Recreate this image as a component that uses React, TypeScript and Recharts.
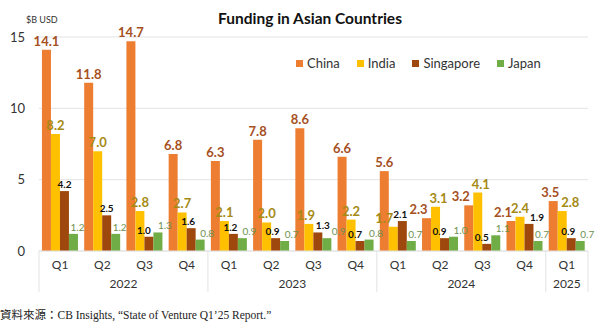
import React from 'react';
import { BarChart, Bar, XAxis, YAxis, CartesianGrid, LabelList } from 'recharts';

const quarters = ['Q1', 'Q2', 'Q3', 'Q4', 'Q1', 'Q2', 'Q3', 'Q4', 'Q1', 'Q2', 'Q3', 'Q4', 'Q1'];
const years = ['2022', '2022', '2022', '2022', '2023', '2023', '2023', '2023', '2024', '2024', '2024', '2024', '2025'];
const china = [14.1, 11.8, 14.7, 6.8, 6.3, 7.8, 8.6, 6.6, 5.6, 2.3, 3.2, 2.1, 3.5];
const india = [8.2, 7.0, 2.8, 2.7, 2.1, 2.0, 1.9, 2.2, 1.7, 3.1, 4.1, 2.4, 2.8];
const singapore = [4.2, 2.5, 1.0, 1.6, 1.2, 0.9, 1.3, 0.7, 2.1, 0.9, 0.5, 1.9, 0.9];
const japan = [1.2, 1.2, 1.3, 0.8, 0.9, 0.7, 0.9, 0.8, 0.7, 1.0, 1.1, 0.7, 0.7];
const yTicks = [0, 5, 10, 15];

// left / right: how far a label steps aside; push: step taken beside a lower neighbour; close: value gap under which labels collide
const series = [
  { key: 'china', name: 'China', color: '#ED7D31', label: '#A5501E', size: 13, weight: 'bold', dx: 0, left: 8, right: 8, push: 3, close: 0.95, gap: 4 },
  { key: 'india', name: 'India', color: '#FFC000', label: '#A58A14', size: 13, weight: 'bold', dx: 0, left: 9, right: 8, push: 3, close: 0.95, gap: 4 },
  { key: 'singapore', name: 'Singapore', color: '#9E480E', label: '#111111', size: 10, weight: 'bold', dx: 0, left: 5, right: 8, push: -2, close: 0.65, gap: 3 },
  { key: 'japan', name: 'Japan', color: '#70AD47', label: '#6E9250', size: 10, weight: 'normal', dx: 4, left: 0, right: 3, push: 3, close: 0.8, gap: 3 },
];

const data: any[] = quarters.map((q, i) => ({
  q,
  year: years[i],
  china: china[i],
  india: india[i],
  singapore: singapore[i],
  japan: japan[i],
}));

const W = 600;
const H = 300;
const LEFT = 39;
const RIGHT = 12;
const BW = (W - LEFT - RIGHT) / data.length;

function rowOffsets(row: any) {
  const out: number[] = [];
  series.forEach((s, si) => {
    const v = row[s.key];
    let dx = s.dx;
    const ps = series[si - 1];
    const ns = series[si + 1];
    const prev = ps ? row[ps.key] : null;
    const next = ns ? row[ns.key] : null;
    if (next != null) {
      if (next >= v && next - v <= s.close) dx -= s.left;
      else if (next < v && v - next <= ns.close) dx -= 3;
    }
    if (prev != null) {
      if (prev >= v && prev - v <= s.close) dx += s.right + Math.max(0, out[si - 1]);
      else if (prev < v && v - prev <= ps.close) dx += s.push;
    }
    out.push(dx);
  });
  return out;
}

function makeLabel(si: number) {
  const s = series[si];
  return (p: any) => {
    const { x, y, width, value, index } = p;
    const dx = rowOffsets(data[index])[si];
    return (
      <text
        x={x + width / 2 + dx}
        y={y - s.gap}
        textAnchor="middle"
        fill={s.label}
        fontSize={s.size}
        fontWeight={s.weight}
      >
        {Number(value).toFixed(1)}
      </text>
    );
  };
}

function QuarterTick(props: any) {
  const { x, y, payload } = props;
  const i = payload.index;
  const yr = data[i].year;
  const first = i === 0 || data[i - 1].year !== yr;
  const last = i === data.length - 1;
  const n = data.filter((d) => d.year === yr).length;
  return (
    <g>
      <text x={x} y={y + 18} textAnchor="middle" fontSize={12} fill="#333">
        {payload.value}
      </text>
      {first && (
        <>
          <line x1={x - BW / 2} x2={x - BW / 2} y1={y} y2={y + 41} stroke="#e3e3e3" />
          <text x={x + ((n - 1) / 2) * BW} y={y + 37} textAnchor="middle" fontSize={12} fill="#333">
            {yr}
          </text>
        </>
      )}
      {last && <line x1={x + BW / 2} x2={x + BW / 2} y1={y} y2={y + 41} stroke="#e3e3e3" />}
    </g>
  );
}

export default function App() {
  return (
    <div
      style={{
        position: 'fixed',
        top: 0,
        left: 0,
        width: 600,
        height: 327,
        background: '#fff',
        fontFamily: 'Lato, sans-serif',
      }}
    >
      <div
        style={{
          position: 'absolute',
          top: 9,
          left: 0,
          width: 620,
          textAlign: 'center',
          fontSize: 15.5,
          fontWeight: 'bold',
          color: '#111',
        }}
      >
        Funding in Asian Countries
      </div>
      <div style={{ position: 'absolute', top: 14, left: 26, fontSize: 9, color: '#333' }}>$B USD</div>
      <div
        style={{
          position: 'absolute',
          top: 55,
          left: 296,
          display: 'flex',
          gap: 17,
          fontSize: 13,
          color: '#333',
          zIndex: 2,
        }}
      >
        {series.map((s) => (
          <div key={s.key} style={{ display: 'flex', alignItems: 'center', gap: 4 }}>
            <span style={{ width: 7, height: 7, background: s.color, display: 'inline-block' }} />
            {s.name}
          </div>
        ))}
      </div>
      <BarChart
        width={W}
        height={H}
        data={data}
        margin={{ top: 37, right: RIGHT, left: 0, bottom: 0 }}
        barCategoryGap="7%"
        barGap={0}
        style={{ fontFamily: 'Lato, sans-serif' }}
      >
        <CartesianGrid vertical={false} stroke="#e3e3e3" />
        <YAxis
          width={LEFT}
          domain={[0, 15]}
          ticks={yTicks}
          axisLine={false}
          tickLine={false}
          tickSize={0}
          tickMargin={14}
          tick={{ fill: '#333', fontSize: 13 }}
        />
        <XAxis
          dataKey="q"
          interval={0}
          height={49}
          axisLine={{ stroke: '#e3e3e3' }}
          tickLine={false}
          tickSize={0}
          tickMargin={0}
          tick={<QuarterTick />}
        />
        {series.map((s, si) => (
          <Bar key={s.key} dataKey={s.key} name={s.name} fill={s.color} isAnimationActive={false}>
            <LabelList dataKey={s.key} content={makeLabel(si)} />
          </Bar>
        ))}
      </BarChart>
      <div
        style={{
          position: 'absolute',
          top: 306,
          left: 0,
          fontSize: 11.5,
          color: '#222',
          fontFamily: "'Liberation Serif', 'Noto Sans CJK TC', serif",
          whiteSpace: 'nowrap',
        }}
      >
        資料來源：CB Insights, “State of Venture Q1’25 Report.”
      </div>
    </div>
  );
}
